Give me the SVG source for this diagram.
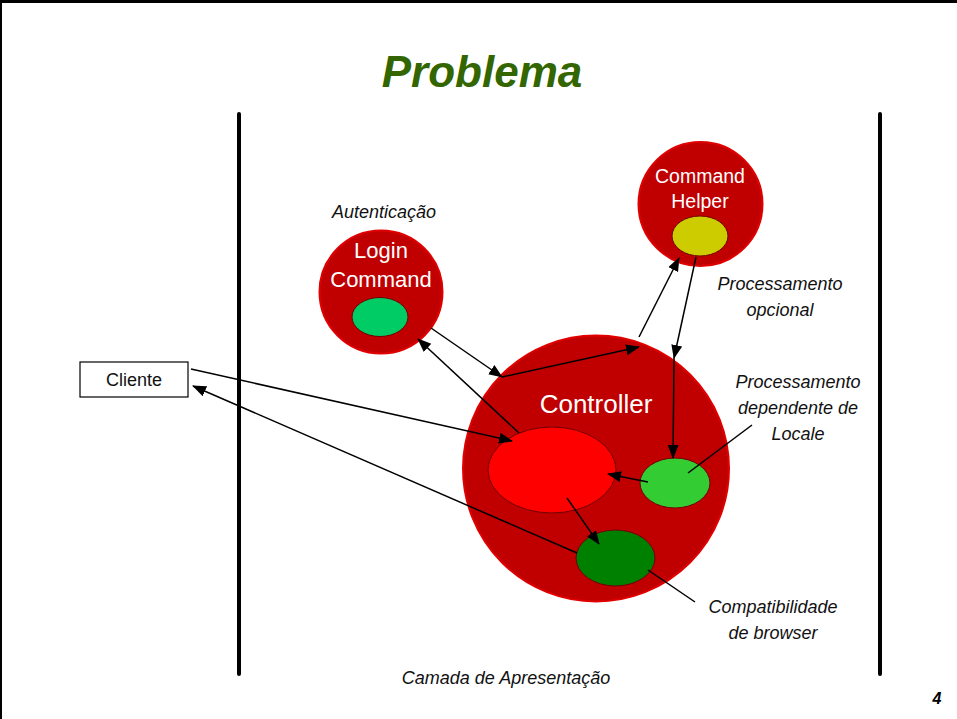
<svg xmlns="http://www.w3.org/2000/svg" width="957" height="719" viewBox="0 0 957 719">
  <style>
    .lbl { font-family: "Liberation Sans", Arial, sans-serif; font-size: 18px; font-style: italic; fill: #111; text-anchor: middle; }
    .node-txt { font-family: "Liberation Sans", Arial, sans-serif; fill: #ffffff; text-anchor: middle; }
    .big { fill: #c00000; stroke: #e00000; stroke-width: 2; }
    .inner { stroke: #700000; stroke-width: 1; }
    .conn { stroke: #000; stroke-width: 1.5; fill: none; }
    .arrow { marker-end: url(#ah); }
    .layer { stroke: #000; stroke-width: 4; stroke-linecap: round; }
  </style>
  <defs>
    <marker id="ah" markerUnits="userSpaceOnUse" markerWidth="14" markerHeight="12" refX="13" refY="5.5" orient="auto">
      <path d="M0,0 L14,5.5 L0,11 z" fill="#000"/>
    </marker>
  </defs>

  <rect width="957" height="719" fill="#ffffff"/>
  <!-- page frame -->
  <line x1="0" y1="1.5" x2="957" y2="1.5" stroke="#000" stroke-width="3"/>
  <line x1="1" y1="0" x2="1" y2="719" stroke="#000" stroke-width="2"/>

  <text x="482" y="87" font-family="'Liberation Sans', Arial, sans-serif" font-size="44" font-weight="bold" font-style="italic" fill="#336600" text-anchor="middle">Problema</text>

  <!-- layer boundaries -->
  <line class="layer" x1="239" y1="114" x2="239" y2="674"/>
  <line class="layer" x1="880" y1="114" x2="880" y2="674"/>

  <g id="cliente">
    <rect x="80" y="362" width="108" height="35" fill="#fff" stroke="#000" stroke-width="1.2"/>
    <text x="134" y="386" font-family="'Liberation Sans', Arial, sans-serif" font-size="18" fill="#111" text-anchor="middle">Cliente</text>
  </g>

  <g id="login-command">
    <text class="lbl" x="384" y="218">Autenticação</text>
    <circle class="big" cx="381" cy="292" r="61.5"/>
    <text class="node-txt" x="381" y="258" font-size="22">Login</text>
    <text class="node-txt" x="381" y="287" font-size="22">Command</text>
    <ellipse class="inner" cx="380" cy="317" rx="28" ry="19.5" fill="#00cc66"/>
  </g>

  <g id="command-helper">
    <circle class="big" cx="700.5" cy="204" r="62"/>
    <text class="node-txt" x="700" y="183" font-size="19.5">Command</text>
    <text class="node-txt" x="700" y="208" font-size="19.5">Helper</text>
    <ellipse class="inner" cx="700" cy="236" rx="28" ry="20" fill="#cccc00"/>
    <text class="lbl" x="780" y="290">Processamento</text>
    <text class="lbl" x="780" y="316">opcional</text>
  </g>

  <g id="controller">
    <circle class="big" cx="596" cy="468.5" r="133"/>
    <text class="node-txt" x="596" y="413" font-size="26">Controller</text>
    <ellipse class="inner" cx="552" cy="470" rx="64" ry="43" fill="#ff0000"/>
    <ellipse class="inner" cx="675" cy="483" rx="35" ry="25" fill="#33cc33"/>
    <ellipse class="inner" cx="615.5" cy="558" rx="39.5" ry="28" fill="#008000"/>
  </g>

  <g id="notes">
    <text class="lbl" x="798" y="388">Processamento</text>
    <text class="lbl" x="798" y="414">dependente de</text>
    <text class="lbl" x="798" y="440">Locale</text>
    <text class="lbl" x="773" y="613">Compatibilidade</text>
    <text class="lbl" x="773" y="639">de browser</text>
    <text class="lbl" x="506" y="684">Camada de Apresentação</text>
    <text x="937" y="704" font-family="'Liberation Sans', Arial, sans-serif" font-size="16" font-weight="bold" font-style="italic" fill="#000" text-anchor="middle">4</text>
  </g>

  <g id="connectors">
    <line class="conn arrow" x1="191" y1="369" x2="512" y2="441"/>
    <line class="conn arrow" x1="577" y1="553" x2="193" y2="386"/>
    <line class="conn arrow" x1="431" y1="328" x2="502" y2="377"/>
    <line class="conn arrow" x1="502" y1="377" x2="639" y2="347"/>
    <line class="conn arrow" x1="639" y1="337" x2="679" y2="258"/>
    <line class="conn arrow" x1="696" y1="257" x2="674" y2="358"/>
    <line class="conn arrow" x1="674" y1="358" x2="673" y2="458"/>
    <line class="conn arrow" x1="519" y1="433" x2="418" y2="339"/>
    <line class="conn arrow" x1="648" y1="482" x2="608" y2="474"/>
    <line class="conn arrow" x1="567" y1="498" x2="599" y2="544"/>
    <line class="conn" x1="688" y1="473" x2="752" y2="425"/>
    <line class="conn" x1="648" y1="570" x2="695" y2="602"/>
  </g>
</svg>
